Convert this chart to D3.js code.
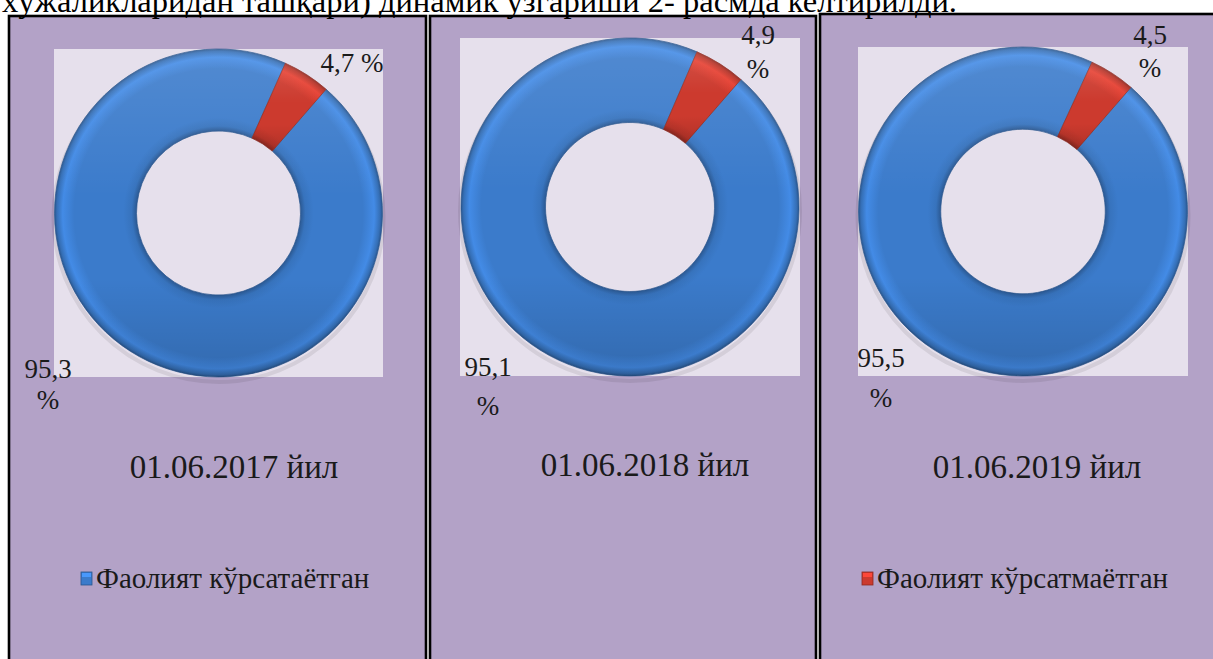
<!DOCTYPE html>
<html lang="uz">
<head>
<meta charset="utf-8">
<script src="https://cdn.jsdelivr.net/npm/d3@7"></script>
<style>
  html, body { margin: 0; padding: 0; background: #fff; overflow: hidden; }
  svg text { font-family: "Liberation Serif", Tinos, "Times New Roman" !important; }
</style>
</head>
<body>
<div id="chart"></div>
<script>
// chart values
var years = ["01.06.2017 йил", "01.06.2018 йил", "01.06.2019 йил"];
var activeShare = [95.3, 95.1, 95.5];
var inactiveShare = [4.7, 4.9, 4.5];
var seriesNames = ["Фаолият кўрсатаётган", "Фаолият кўрсатмаётган"];
var seriesColors = ["#3b7bcb", "#cc3a2e"];
var headline = "хўжаликларидан ташқари) динамик ўзгариши 2- расмда келтирилди.";

var W = 1213, H = 659;

// panel frames and plot areas (layout only)
var panels = [
  { x: 9,   y: 16, w: 417, plot: [54, 49, 329, 328],  dateX: 234,  dateY: 478,
    redLbl: { x: 352, y: 72, split: false }, blueLbl: { x: 48, y: 378, y2: 409 }, legend: 0 },
  { x: 430, y: 16, w: 386, plot: [460, 38, 340, 338], dateX: 645,  dateY: 476,
    redLbl: { x: 758, y: 44, split: true, y2: 78 }, blueLbl: { x: 488, y: 376, y2: 415 }, legend: -1 },
  { x: 820, y: 14, w: 420, plot: [858, 47, 330, 329], dateX: 1037, dateY: 478,
    redLbl: { x: 1150, y: 44, split: true, y2: 77 }, blueLbl: { x: 881, y: 367, y2: 407 }, legend: 1 }
];

var fmt = function(v) { return d3.format(".1f")(v).replace(".", ","); };

var svg = d3.select("#chart").append("svg")
    .attr("width", W)
    .attr("height", H);

var defs = svg.append("defs");

// light from the top, dark at the bottom
var sheen = defs.append("linearGradient").attr("id", "sheen")
    .attr("x1", 0).attr("y1", 0).attr("x2", 0).attr("y2", 1);
sheen.append("stop").attr("offset", "0%").attr("stop-color", "#fff").attr("stop-opacity", 0.12);
sheen.append("stop").attr("offset", "45%").attr("stop-color", "#fff").attr("stop-opacity", 0);
sheen.append("stop").attr("offset", "70%").attr("stop-color", "#000").attr("stop-opacity", 0);
sheen.append("stop").attr("offset", "100%").attr("stop-color", "#000").attr("stop-opacity", 0.14);

var pie = d3.pie().sort(null)
    .startAngle(41 * Math.PI / 180)
    .endAngle(41 * Math.PI / 180 + 2 * Math.PI);

function addText(parent, x, y, size, t) {
  return parent.append("text")
      .attr("x", x).attr("y", y)
      .attr("font-family", "Liberation Serif")
      .attr("font-size", size)
      .attr("fill", "#1a1a1a")
      .text(t);
}

panels.forEach(function(p, i) {
  var g = svg.append("g").attr("class", "panel");

  g.append("rect")
      .attr("x", p.x).attr("y", p.y)
      .attr("width", p.w).attr("height", H - p.y + 10)
      .style("fill", "#b3a2c7")
      .style("stroke", "#000")
      .style("stroke-width", 2.6);

  var pl = p.plot;
  g.append("rect")
      .attr("x", pl[0]).attr("y", pl[1])
      .attr("width", pl[2]).attr("height", pl[3])
      .style("fill", "#e6e0ec");

  var cx = pl[0] + pl[2] / 2,
      cy = pl[1] + pl[3] / 2,
      r = Math.min(pl[2], pl[3]) / 2;

  // ring bevel: dark rim at both edges, lighter band just inside the outer edge
  seriesColors.forEach(function(c, j) {
    var base = d3.color(c);
    var rg = defs.append("radialGradient").attr("id", "ring" + i + "_" + j)
        .attr("gradientUnits", "userSpaceOnUse")
        .attr("cx", 0).attr("cy", 0).attr("r", r);
    [[0.50, base.darker(0.9)], [0.53, base.darker(0.2)], [0.58, base],
     [0.88, base], [0.95, base.brighter(0.35)], [0.985, base.darker(0.3)], [1, base.darker(1)]]
      .forEach(function(s) {
        rg.append("stop").attr("offset", s[0]).attr("stop-color", s[1]);
      });
  });

  var arc = d3.arc().innerRadius(r * 0.5).outerRadius(r);
  var slices = pie([activeShare[i], inactiveShare[i]]);

  var donut = g.append("g").attr("transform", "translate(" + cx + "," + cy + ")");

  // soft shadow under the ring
  donut.append("circle")
      .attr("cy", 4).attr("r", r + 1)
      .style("fill", "none")
      .style("stroke", "#000")
      .style("stroke-opacity", 0.08)
      .style("stroke-width", 4);

  donut.selectAll("path.slice")
    .data(slices)
    .enter().append("path")
      .attr("class", "slice")
      .attr("d", arc)
      .style("fill", function(d, j) { return "url(#ring" + i + "_" + j + ")"; })
      .style("stroke", function(d, j) { return d3.color(seriesColors[j]).darker(1); })
      .style("stroke-width", 0.7);

  donut.selectAll("path.sheen")
    .data(slices)
    .enter().append("path")
      .attr("class", "sheen")
      .attr("d", arc)
      .style("fill", "url(#sheen)");

  // data labels
  var lbl = function(x, y, t) {
    addText(g, x, y, 27, t).attr("text-anchor", "middle");
  };
  if (p.redLbl.split) {
    lbl(p.redLbl.x, p.redLbl.y, fmt(inactiveShare[i]));
    lbl(p.redLbl.x, p.redLbl.y2, "%");
  } else {
    lbl(p.redLbl.x, p.redLbl.y, fmt(inactiveShare[i]) + " %");
  }
  lbl(p.blueLbl.x, p.blueLbl.y, fmt(activeShare[i]));
  lbl(p.blueLbl.x, p.blueLbl.y2, "%");

  // year caption
  addText(g, p.dateX, p.dateY, 33, years[i]).attr("text-anchor", "middle");

  // legend entry
  if (p.legend >= 0) {
    var lx = p.legend === 0 ? 81 : 862;
    var c = d3.color(seriesColors[p.legend]);
    var lg = g.append("g").attr("transform", "translate(" + lx + ",572)");
    lg.append("rect")
        .attr("width", 11).attr("height", 13)
        .style("fill", c)
        .style("stroke", c.darker(1))
        .style("stroke-width", 0.8);
    lg.append("rect")
        .attr("x", 1).attr("y", 1).attr("width", 9).attr("height", 4)
        .style("fill", c.brighter(0.6));
    addText(lg, 15, 16, 29, seriesNames[p.legend]);
  }
});

// headline, cut by the top of the picture as in the source scan
addText(svg, 2, 12, 32, headline)
    .attr("textLength", 955)
    .attr("lengthAdjust", "spacingAndGlyphs")
    .attr("fill", "#000");
</script>
</body>
</html>
